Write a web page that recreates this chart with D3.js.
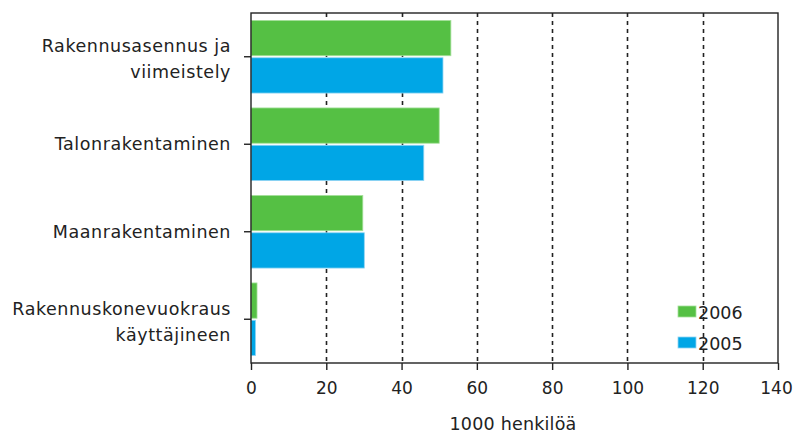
<!DOCTYPE html>
<html>
<head>
<meta charset="utf-8">
<script src="https://cdn.jsdelivr.net/npm/d3@7"></script>
<style>
  body { margin: 0; background: #fff; }
  text { font-family: "DejaVu Sans", sans-serif; font-size: 17.5px; fill: #222; }
</style>
</head>
<body>
<div id="chart"></div>
<script>
// Data
const categories = [
  "Rakennusasennus ja\nviimeistely",
  "Talonrakentaminen",
  "Maanrakentaminen",
  "Rakennuskonevuokraus\nkäyttäjineen",
];
const seriesNames = ["2006", "2005"];
const values2006 = [53.1, 50.0, 29.7, 1.6];
const values2005 = [51.0, 45.9, 30.1, 1.2];
const xTicks = [0, 20, 40, 60, 80, 100, 120, 140];
const xTitle = "1000 henkilöä";

const colors = { "2006": "#55c044", "2005": "#00a6e6" };
const strokes = { "2006": "#a6e09c", "2005": "#8fd4f3" };

//Dimensions
const dimensions = { width: 794, height: 434, left: 251, right: 778, top: 13, bottom: 363 };

const svg = d3
  .select("#chart")
  .append("svg")
  .attr("width", dimensions.width)
  .attr("height", dimensions.height);

const xScale = d3.scaleLinear().domain([0, 140]).range([dimensions.left, dimensions.right]);

const yScale = d3
  .scaleBand()
  .domain(categories)
  .range([dimensions.top, dimensions.bottom])
  .paddingInner(0.17)
  .paddingOuter(0.085);

const subScale = d3
  .scaleBand()
  .domain(seriesNames)
  .range([0, yScale.bandwidth()])
  .paddingInner(0.055);

const rows = categories.map((c, i) => ({
  category: c,
  values: [
    { name: "2006", value: values2006[i] },
    { name: "2005", value: values2005[i] },
  ],
}));

// Gridlines (behind bars)
svg
  .append("g")
  .selectAll("line")
  .data(xTicks.filter((t) => t > 0 && t < 140))
  .join("line")
  .attr("x1", (d) => Math.round(xScale(d)) + 0.5)
  .attr("x2", (d) => Math.round(xScale(d)) + 0.5)
  .attr("y1", dimensions.top)
  .attr("y2", dimensions.bottom)
  .attr("stroke", "#222")
  .attr("stroke-width", 1.6)
  .attr("stroke-dasharray", "4,4");

// Bars
const groups = svg
  .append("g")
  .selectAll("g")
  .data(rows)
  .join("g")
  .attr("transform", (d) => `translate(0, ${yScale(d.category)})`);

groups
  .selectAll("rect")
  .data((d) => d.values)
  .join("rect")
  .attr("x", xScale(0))
  .attr("y", (d) => subScale(d.name))
  .attr("width", (d) => xScale(d.value) - xScale(0))
  .attr("height", subScale.bandwidth())
  .attr("fill", (d) => colors[d.name])
  .attr("stroke", (d) => strokes[d.name])
  .attr("stroke-width", 0.8);

// Frame
svg
  .append("rect")
  .attr("x", dimensions.left)
  .attr("y", dimensions.top)
  .attr("width", dimensions.right - dimensions.left)
  .attr("height", dimensions.bottom - dimensions.top)
  .attr("fill", "none")
  .attr("stroke", "#222")
  .attr("stroke-width", 1.4);

// X axis
const xAxis = d3
  .axisBottom(xScale)
  .tickValues(xTicks)
  .tickSize(7)
  .tickPadding(12)
  .tickFormat(d3.format("d"));

const gx = svg
  .append("g")
  .attr("transform", `translate(0, ${dimensions.bottom})`)
  .call(xAxis);
gx.select(".domain").remove();
gx.selectAll(".tick line").attr("stroke", "#222").attr("stroke-width", 1.4);
gx.selectAll(".tick text")
  .attr("fill", "#222")
  .attr("dx", (d) => (d === 140 ? -2 : 0))
  .style("font-size", "17px")
  .style("font-family", "DejaVu Sans");

// Y axis ticks
svg
  .append("g")
  .selectAll("line")
  .data(categories)
  .join("line")
  .attr("x1", dimensions.left - 7)
  .attr("x2", dimensions.left)
  .attr("y1", (d) => yScale(d) + yScale.bandwidth() / 2)
  .attr("y2", (d) => yScale(d) + yScale.bandwidth() / 2)
  .attr("stroke", "#222")
  .attr("stroke-width", 1.4);

// Category labels
svg
  .append("g")
  .selectAll("text")
  .data(categories)
  .join("text")
  .attr("text-anchor", "end")
  .style("letter-spacing", "0.55px")
  .each(function (d) {
    const lines = d.split("\n");
    const center = yScale(d) + yScale.bandwidth() / 2;
    const t = d3.select(this);
    lines.forEach((line, i) => {
      const y = lines.length === 1 ? center + 6 : center - 4.5 + i * 26;
      t.append("tspan").attr("x", 231).attr("y", y).text(line);
    });
  });

// Axis title
svg
  .append("text")
  .attr("x", 513)
  .attr("y", 430)
  .attr("text-anchor", "middle")
  .style("letter-spacing", "0.2px")
  .text(xTitle);

// Legend
const legend = svg
  .append("g")
  .selectAll("g")
  .data(seriesNames)
  .join("g")
  .attr("transform", (d, i) => `translate(678, ${306 + i * 31})`);

legend
  .append("rect")
  .attr("width", 18)
  .attr("height", 11)
  .attr("fill", (d) => colors[d])
  .attr("stroke", (d) => strokes[d])
  .attr("stroke-width", 0.8);

legend
  .append("text")
  .attr("x", 20)
  .attr("y", 13)
  .text((d) => d);
</script>
</body>
</html>
